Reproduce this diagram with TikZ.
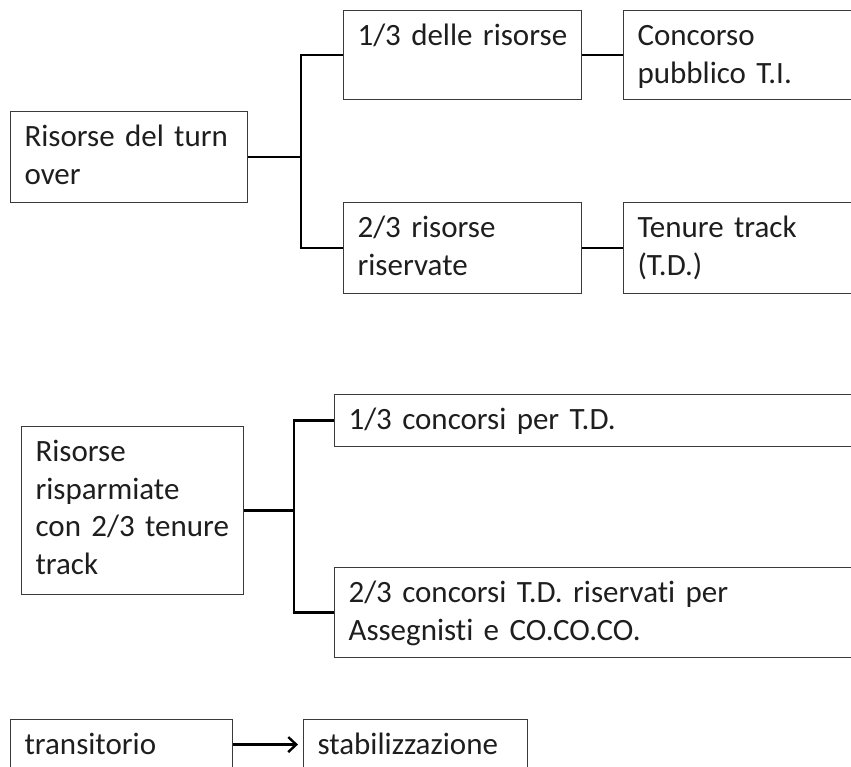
\documentclass[tikz,border=0pt]{standalone}
\usepackage{fontspec}
\setmainfont{Carlito}[Ligatures=NoCommon]
\usetikzlibrary{arrows.meta}
\definecolor{boxline}{HTML}{3A3A3A}
\definecolor{ink}{HTML}{1E1E1E}
\newcommand\boxfont{\fontsize{31}{37.7}\selectfont\spaceskip=0.17em plus 0.05em\relax}
\tikzset{
  every picture/.style={font=\boxfont, text=ink},
  box/.style={draw=boxline, line width=1.1pt, anchor=north west, align=left,
    inner xsep=14pt, inner ysep=0pt, text height=35pt},
  link/.style={draw=black, line width=2.4pt},
  arrow/.style={link, -{Straight Barb[length=8pt, width=15pt]}, shorten >=5pt},
}

\begin{document}
\begin{tikzpicture}[x=1pt, y=-1pt]
  \useasboundingbox (0,0) rectangle (851,767);
  % first scheme
  \node[box, text width=209pt, text depth=56pt] (turn) at (10,111) {Risorse del turn\\over};
  \node[box, text width=210pt, text depth=54pt] (third) at (343,10) {1/3 delle risorse};
  \node[box, text width=212pt, text depth=54pt] (concorso) at (623,10) {Concorso\\pubblico T.I.};
  \node[box, text width=210pt, text depth=56pt] (twothirds) at (343,202) {2/3 risorse\\riservate};
  \node[box, text width=212pt, text depth=56pt] (tenure) at (623,202) {Tenure track\\(T.D.)};
  \coordinate (fork1) at ([xshift=53pt]turn.east);
  \draw[link] (turn.east) -- (fork1);
  \draw[link] (third.west) -| (fork1) |- (twothirds.west);
  \draw[link] (third) -- (concorso);
  \draw[link] (twothirds) -- (tenure);
  % second scheme
  \node[box, text width=194pt, text depth=133pt] (risp) at (21,426) {Risorse\\risparmiate\\con 2/3 tenure\\track};
  \node[box, text width=502pt, text depth=17pt] (concA) at (334,394) {1/3 concorsi per T.D.};
  \node[box, text width=502pt, text depth=55pt] (concB) at (334,567) {2/3 concorsi T.D. riservati per\\Assegnisti e CO.CO.CO.};
  \coordinate (fork2) at ([xshift=50pt]risp.east);
  \draw[link] (risp.east) -- (fork2);
  \draw[link] (concA.west) -| (fork2) |- (concB.west);
  % transition
  \node[box, text width=194pt, text depth=15pt] (trans) at (10,719) {transitorio};
  \node[box, text width=196pt, text depth=15pt] (stab) at (303,719) {stabilizzazione};
  \draw[arrow] (trans) -- (stab);
\end{tikzpicture}
\end{document}
